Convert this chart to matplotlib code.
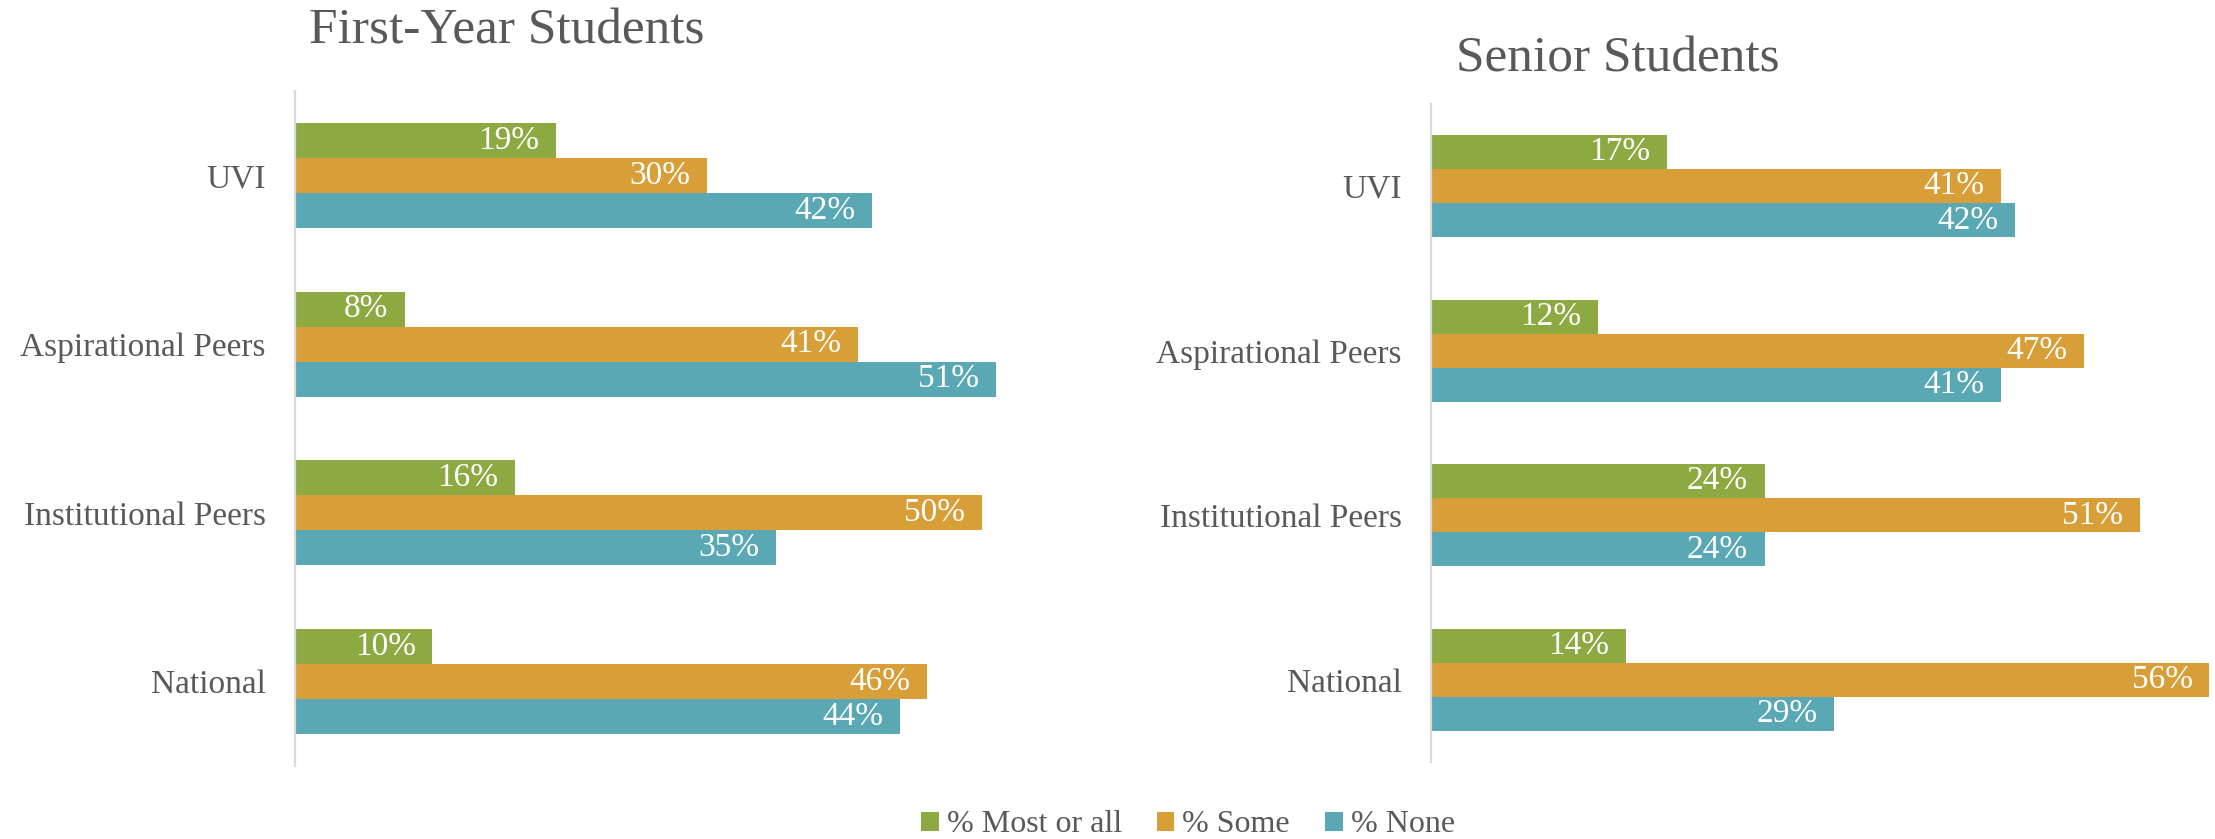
import matplotlib
matplotlib.use("Agg")
import matplotlib.pyplot as plt
from matplotlib.patches import Patch

plt.rcParams['font.family'] = ['Liberation Serif', 'DejaVu Serif']

categories = ["UVI", "Aspirational Peers", "Institutional Peers", "National"]
series_names = ["% Most or all", "% Some", "% None"]
colors = ["#8DAA42", "#D89F38", "#5BA8B5"]

first_year_most = [0.19, 0.08, 0.16, 0.10]
first_year_some = [0.30, 0.41, 0.50, 0.46]
first_year_none = [0.42, 0.51, 0.35, 0.44]

senior_most = [0.17, 0.12, 0.24, 0.14]
senior_some = [0.41, 0.47, 0.51, 0.56]
senior_none = [0.42, 0.41, 0.24, 0.29]

titles = ["First-Year Students", "Senior Students"]

W, H = 2215, 839
fig = plt.figure(figsize=(W / 100, H / 100), dpi=100)
text_color = "#595959"


def px_axes(x0, top, bottom, width):
    return fig.add_axes([x0 / W, 1 - bottom / H, width / W, (bottom - top) / H])


def draw(ax, series, xmax):
    bh = 0.207
    for k, (vals, col) in enumerate(zip(series, colors)):
        ys = [i + (k - 1) * bh for i in range(len(categories))]
        bars = ax.barh(ys, vals, height=bh, color=col, edgecolor='none')
        for b, v in zip(bars, vals):
            ax.annotate(f"{round(v * 100)}%", xy=(b.get_width(), b.get_y() + b.get_height() / 2),
                        xytext=(-12, 0), textcoords='offset points', ha='right', va='center',
                        color='white', fontsize=24)
    ax.set_xlim(0, xmax)
    ax.set_ylim(len(categories) - 0.5, -0.5)
    ax.set_yticks(range(len(categories)))
    ax.set_yticklabels(categories, fontsize=24, color=text_color)
    ax.tick_params(axis='y', length=0, pad=21)
    ax.set_xticks([])
    for s in ['top', 'right', 'bottom']:
        ax.spines[s].set_visible(False)
    ax.spines['left'].set_color('#D9D9D9')
    ax.spines['left'].set_linewidth(1.6)


ax1 = px_axes(295, 91, 766, 0.6 * 1374)
draw(ax1, [first_year_most, first_year_some, first_year_none], 0.6)
ax2 = px_axes(1431, 104, 762, 0.56 * 1390)
draw(ax2, [senior_most, senior_some, senior_none], 0.56)

fig.text(309 / W, 1 - 44 / H, titles[0], fontsize=37, color=text_color, ha='left', va='baseline')
fig.text(1456 / W, 1 - 71 / H, titles[1], fontsize=37, color=text_color, ha='left', va='baseline')

handles = [Patch(facecolor=c, edgecolor='none') for c in colors]
fig.legend(handles, series_names, loc='center', bbox_to_anchor=(1188 / W, 1 - 825 / H),
           ncol=3, frameon=False, fontsize=23, labelcolor=text_color,
           handlelength=0.55, handleheight=0.55, handletextpad=0.25, columnspacing=1.1,
           borderpad=0, borderaxespad=0)

fig.savefig("out.png", dpi=100)
